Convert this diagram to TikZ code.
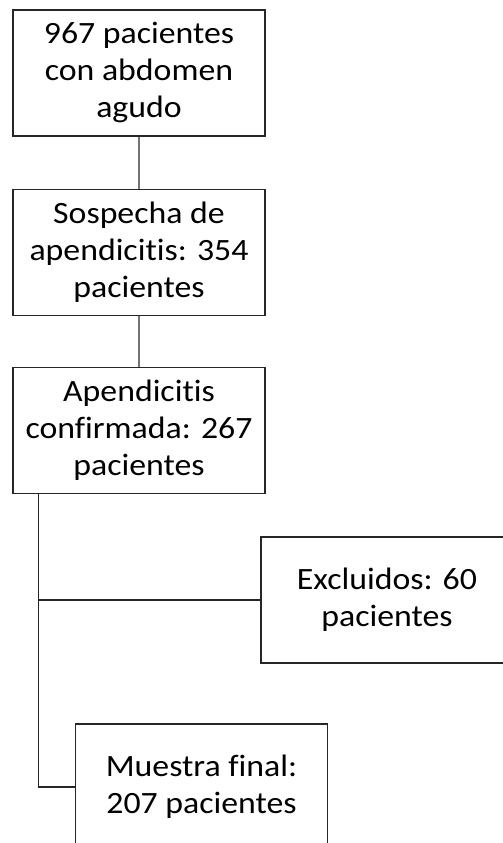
\documentclass[tikz,border=0pt]{standalone}
\usepackage{fontspec}
\setmainfont{Carlito}[FakeStretch=1.09, RawFeature=-liga]

\begin{document}
\begin{tikzpicture}[x=1pt, y=-1pt,
    caja/.style={draw=black!85, line width=1.2pt, fill=white, align=center,
      minimum width=252pt, minimum height=126pt, inner sep=0pt,
      font=\fontsize{31}{37}\selectfont},
    enlace/.style={draw=black!55, line width=1.5pt},
    rama/.style={draw=black!85, line width=1.1pt}]
      \clip (0,0) rectangle (503,843);
      \fill[white] (0,0) rectangle (503,843);
      % cajas del flujo
      \node[caja] (total) at (139,73) {967 pacientes\\con abdomen\\agudo};
      \node[caja] (sosp) at (139,252.5) {Sospecha de\\apendicitis: 354\\pacientes};
      \node[caja] (conf) at (139,430.5) {Apendicitis\\confirmada: 267\\pacientes};
      \node[caja] (excl) at (387,600) {Excluidos: 60\\pacientes};
      \node[caja] (final) at (201.5,787) {Muestra final:\\207 pacientes};
      % conectores
      \draw[enlace] (total) -- (sosp);
      \draw[enlace] (sosp) -- (conf);
      \coordinate (tronco) at (38.7,493.5);
      \draw[rama] (tronco) |- (excl.west);
      \draw[rama] (tronco) |- (final.west);
\end{tikzpicture}
\end{document}
